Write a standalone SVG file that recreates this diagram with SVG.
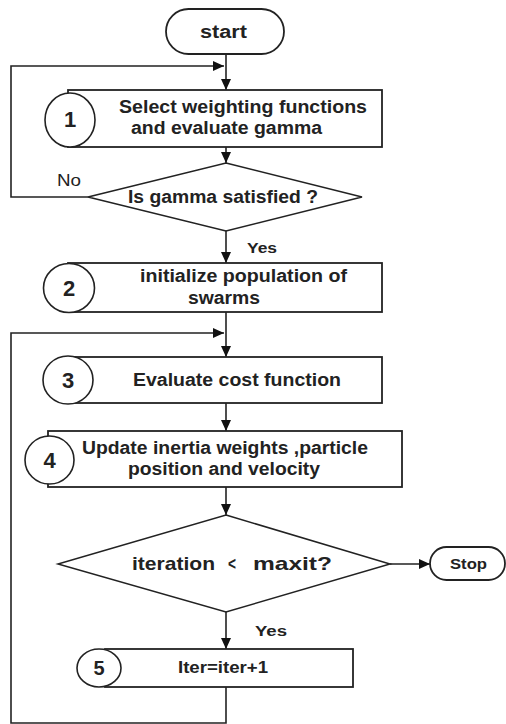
<svg xmlns="http://www.w3.org/2000/svg" width="506" height="724" viewBox="0 0 506 724">
<style>
.box{fill:#fff;stroke:#222;stroke-width:1.8}
.circ{fill:#fff;stroke:#222;stroke-width:1.6}
.dia{fill:#fff;stroke:#222;stroke-width:1.5}
.t{font-family:"Liberation Sans",Arial,sans-serif;font-weight:bold;font-size:18px;fill:#222;text-anchor:middle}
.n{font-family:"Liberation Sans",Arial,sans-serif;font-weight:bold;font-size:22px;fill:#222;text-anchor:middle}
.lbl{font-family:"Liberation Sans",Arial,sans-serif;font-size:16px;fill:#222}
.lblb{font-family:"Liberation Sans",Arial,sans-serif;font-weight:bold;font-size:14px;fill:#222}
.c{fill:none;stroke:#222;stroke-width:1.6}
</style>
<defs>
<marker id="ah" markerUnits="userSpaceOnUse" markerWidth="12" markerHeight="10" refX="11" refY="5" orient="auto">
<path d="M0,0 L11,5 L0,10 z" fill="#111"/>
</marker>
</defs>
<g id="connectors">
<path class="c" d="M226,54 V90" marker-end="url(#ah)"/>
<path class="c" d="M226,147 V163" marker-end="url(#ah)"/>
<path class="c" d="M226,231 V263" marker-end="url(#ah)"/>
<path class="c" d="M88,197 H11 V66 H224" marker-end="url(#ah)"/>
<path class="c" d="M226,312 V357" marker-end="url(#ah)"/>
<path class="c" d="M226,687 V723 H11 V333 H224" marker-end="url(#ah)"/>
<path class="c" d="M226,403 V431" marker-end="url(#ah)"/>
<path class="c" d="M226,487 V515" marker-end="url(#ah)"/>
<path class="c" d="M390,564 H430" marker-end="url(#ah)"/>
<path class="c" d="M226,612 V649" marker-end="url(#ah)"/>
<text class="lbl" x="57" y="186" textLength="24" lengthAdjust="spacingAndGlyphs">No</text>
<text class="lblb" x="247" y="253" textLength="30" lengthAdjust="spacingAndGlyphs">Yes</text>
<text class="lblb" x="255" y="636" textLength="32" lengthAdjust="spacingAndGlyphs">Yes</text>
</g>
<g id="start">
<rect class="box" x="166" y="9" width="118" height="45" rx="22.5"/>
<text class="t" x="223.5" y="38" textLength="47" lengthAdjust="spacingAndGlyphs">start</text>
</g>
<g id="step1">
<rect class="box" x="68" y="90" width="314" height="57"/>
<ellipse class="circ" cx="70" cy="120" rx="25" ry="27"/>
<text class="n" x="70" y="127">1</text>
<text class="t" x="243" y="113" textLength="248" lengthAdjust="spacingAndGlyphs">Select weighting functions</text>
<text class="t" x="226.5" y="134" textLength="191" lengthAdjust="spacingAndGlyphs">and evaluate gamma</text>
</g>
<g id="decision1">
<polygon class="dia" points="226,163 362,197 226,231 88,197"/>
<text class="t" x="223" y="203" textLength="190" lengthAdjust="spacingAndGlyphs">Is gamma satisfied ?</text>
</g>
<g id="step2">
<rect class="box" x="68" y="263" width="314" height="49"/>
<ellipse class="circ" cx="69" cy="288" rx="25.5" ry="24.5"/>
<text class="n" x="69" y="296">2</text>
<text class="t" x="243.5" y="282" textLength="207" lengthAdjust="spacingAndGlyphs">initialize population of</text>
<text class="t" x="224" y="304" textLength="72" lengthAdjust="spacingAndGlyphs">swarms</text>
</g>
<g id="step3">
<rect class="box" x="68" y="357" width="314" height="46"/>
<ellipse class="circ" cx="68" cy="380" rx="25" ry="24"/>
<text class="n" x="68" y="388">3</text>
<text class="t" x="237" y="386" textLength="208" lengthAdjust="spacingAndGlyphs">Evaluate cost function</text>
</g>
<g id="step4">
<rect class="box" x="48" y="431" width="354" height="56"/>
<ellipse class="circ" cx="49.5" cy="460" rx="24.5" ry="24"/>
<text class="n" x="49.5" y="468">4</text>
<text class="t" x="225" y="454" textLength="286" lengthAdjust="spacingAndGlyphs">Update inertia weights ,particle</text>
<text class="t" x="224" y="475" textLength="192" lengthAdjust="spacingAndGlyphs">position and velocity</text>
</g>
<g id="decision2">
<polygon class="dia" points="226,515 390,564 226,612 58,564"/>
<text class="t" x="132" y="570" style="text-anchor:start;font-size:19px"><tspan x="132" textLength="83" lengthAdjust="spacingAndGlyphs">iteration</tspan> <tspan x="228" textLength="8" lengthAdjust="spacingAndGlyphs">&lt;</tspan> <tspan x="253" textLength="79" lengthAdjust="spacingAndGlyphs">maxit?</tspan></text>
</g>
<g id="stop">
<rect class="box" x="430" y="547" width="75" height="33" rx="16.5"/>
<text class="t" x="468.5" y="569" style="font-size:15px" textLength="37" lengthAdjust="spacingAndGlyphs">Stop</text>
</g>
<g id="step5">
<rect class="box" x="105" y="649" width="248" height="38"/>
<ellipse class="circ" cx="99" cy="668" rx="22" ry="19"/>
<text class="n" x="99" y="675" style="font-size:20px">5</text>
<text class="t" x="223" y="673" style="font-size:16px" textLength="90" lengthAdjust="spacingAndGlyphs">Iter=iter+1</text>
</g>
</svg>
